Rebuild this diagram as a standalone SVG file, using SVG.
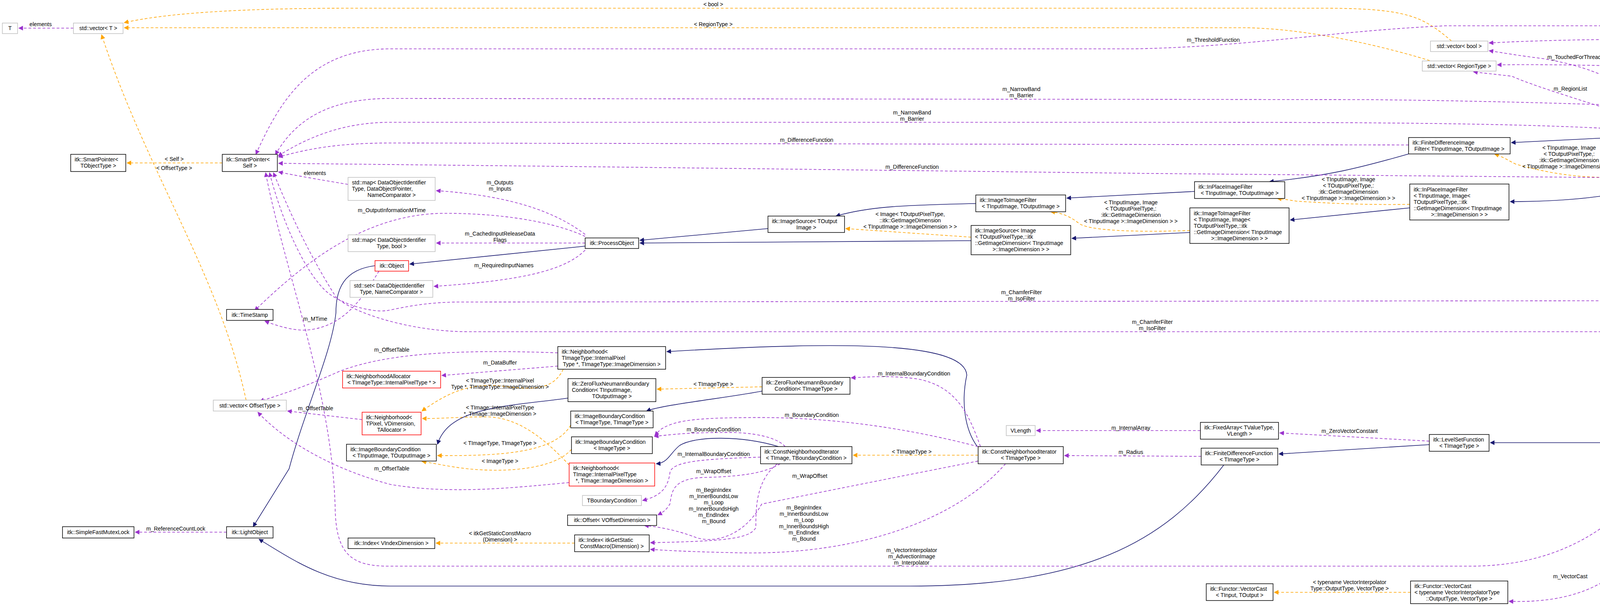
<svg xmlns="http://www.w3.org/2000/svg" width="5877" height="1551" viewBox="0 0 5877 1551">
<style>
text{font-family:"Liberation Sans",Arial,sans-serif;font-size:14px;fill:#000}
.l{text-anchor:start}.c{text-anchor:middle}
rect{stroke-width:1.5}
.n rect{fill:#fff;stroke:#000}
.x rect{fill:#fff;stroke:#bfbfbf}
.r rect{fill:#fff;stroke:#ff0000}
.m rect{fill:#bfbfbf;stroke:#000}
path{fill:none;stroke-width:1.6}
.u{stroke:#9a32cd;stroke-dasharray:7,5;marker-end:url(#mu)}
.t{stroke:#ffa500;stroke-dasharray:7,5;marker-end:url(#mt)}
.i{stroke:#191970;marker-end:url(#mi)}
</style>
<defs>
<marker id="mu" viewBox="0 0 10 10" refX="9" refY="5" markerWidth="12" markerHeight="12" markerUnits="userSpaceOnUse" orient="auto"><path d="M0,0L10,5L0,10z" style="fill:#9a32cd;stroke:none"/></marker>
<marker id="mt" viewBox="0 0 10 10" refX="9" refY="5" markerWidth="12" markerHeight="12" markerUnits="userSpaceOnUse" orient="auto"><path d="M0,0L10,5L0,10z" style="fill:#ffa500;stroke:none"/></marker>
<marker id="mi" viewBox="0 0 10 10" refX="9" refY="5" markerWidth="12" markerHeight="12" markerUnits="userSpaceOnUse" orient="auto"><path d="M0,0L10,5L0,10z" style="fill:#191970;stroke:none"/></marker>
</defs>
<rect width="5877" height="1551" fill="#fff"/>
<g id="edges">
<path class="t" d="M3716,105 C3640,40 3600,21 3380,21 L900,21 C600,21 420,35 318,58"/>
<path class="t" d="M3660,155 C3480,100 3300,71 3180,71 L318,71"/>
<path class="t" d="M630,1024 C560,700 380,450 260,89"/>
<path class="t" d="M569,417 L325,417"/>
<path class="t" d="M1442,945 C1420,990 1380,1000 1300,990 C1200,975 1140,1010 1080,1052"/>
<path class="t" d="M1457,1190 C1400,1130 1330,1065 1240,1067 C1180,1067 1120,1072 1081,1071"/>
<path class="t" d="M1461,1088 C1420,1160 1280,1167 1120,1166"/>
<path class="t" d="M1463,1150 C1420,1200 1300,1210 1200,1200 C1150,1195 1110,1185 1080,1181"/>
<path class="t" d="M1471,1390 L1116,1390"/>
<path class="t" d="M1951,990 L1682,996"/>
<path class="t" d="M2504,1165 L2184,1165"/>
<path class="t" d="M3611,1516 L3262,1516"/>
<path class="t" d="M2486,607 L2165,585"/>
<path class="t" d="M3046,590 C2900,595 2780,590 2760,570 C2740,555 2720,545 2690,542"/>
<path class="t" d="M3609,523 C3500,525 3400,520 3320,515 C3300,512 3290,510 3270,508"/>
<path class="t" d="M4178,455 C4050,455 3990,450 3880,420 C3860,410 3845,400 3826,394"/>
<path class="t" d="M4740,358 C4650,375 4550,370 4437,362"/>
<path class="t" d="M5272,769 L4996,769"/>
<path class="i" d="M1498,630 L1049,676"/>
<path class="i" d="M960,680 C880,690 860,740 860,800 C850,900 780,1050 740,1200 L648,1348"/>
<path class="i" d="M3133,1190 C2980,1390 2770,1500 2330,1500 L1000,1500 C850,1500 760,1440 663,1380"/>
<path class="i" d="M1454,1019 C1300,1040 1150,1040 1120,1137"/>
<path class="i" d="M1951,1001 C1850,1020 1700,1035 1655,1052"/>
<path class="i" d="M1993,1143 C1900,1115 1780,1115 1740,1140 C1715,1160 1710,1185 1680,1187"/>
<path class="i" d="M2502,1143 C2470,1100 2460,1030 2475,960 C2470,880 2200,870 1707,900"/>
<path class="i" d="M3659,1138 L3274,1162"/>
<path class="i" d="M4189,1133 L3815,1133"/>
<path class="i" d="M5728,288 L5460,723"/>
<path class="i" d="M5367,723 L4930,369"/>
<path class="i" d="M4840,739 C4700,520 4550,420 4380,367"/>
<path class="i" d="M4745,366 C4620,410 4530,420 4431,433"/>
<path class="i" d="M4171,350 L3869,365"/>
<path class="i" d="M4178,488 C4100,505 4000,516 3866,516"/>
<path class="i" d="M3606,394 C3480,430 3400,450 3250,465"/>
<path class="i" d="M3609,532 L3303,563"/>
<path class="i" d="M3058,490 L2731,507"/>
<path class="i" d="M3046,595 L2744,610"/>
<path class="i" d="M2498,521 C2300,525 2220,530 2140,553"/>
<path class="i" d="M1966,585 L1638,615"/>
<path class="i" d="M2486,616 L1638,622"/>
<path class="u" d="M188,72 L48,72"/>
<path class="u" d="M891,472 C820,460 760,450 713,440"/>
<path class="u" d="M1498,600 C1420,540 1300,500 1117,488"/>
<path class="u" d="M1498,605 C1400,560 1250,545 1130,546 C950,550 800,650 652,795"/>
<path class="u" d="M1498,622 L1117,622"/>
<path class="u" d="M1498,640 C1440,700 1300,720 1111,733"/>
<path class="u" d="M970,694 C930,760 880,840 780,845 C740,845 700,830 678,822"/>
<path class="u" d="M580,1362 L346,1362"/>
<path class="u" d="M1428,903 C1200,895 1000,900 870,950 C780,990 720,1010 665,1027"/>
<path class="u" d="M1428,937 L1131,961"/>
<path class="u" d="M927,1074 L736,1052"/>
<path class="u" d="M1457,1235 C1300,1250 1150,1265 1000,1240 C850,1200 730,1130 660,1055"/>
<path class="u" d="M2010,1143 C1990,1120 1930,1105 1850,1107 C1760,1107 1720,1112 1675,1117"/>
<path class="u" d="M1947,1170 C1800,1175 1720,1180 1715,1210 C1710,1250 1690,1270 1645,1281"/>
<path class="u" d="M1997,1187 C1960,1210 1900,1220 1800,1222 C1720,1225 1720,1260 1715,1290 C1705,1305 1700,1310 1684,1318"/>
<path class="u" d="M1990,1187 C1935,1230 1935,1300 1935,1350 C1920,1380 1850,1385 1665,1389"/>
<path class="u" d="M2504,1143 C2300,1090 2100,1065 1900,1069 C1760,1070 1720,1080 1690,1100 L1676,1115"/>
<path class="u" d="M2510,1143 C2480,1060 2450,990 2350,970 C2280,960 2220,965 2179,967"/>
<path class="u" d="M2504,1180 C2300,1220 2150,1250 1950,1290 C1900,1380 1820,1390 1780,1375 C1740,1360 1700,1350 1650,1345"/>
<path class="u" d="M2574,1187 C2450,1330 2200,1420 1900,1415 C1800,1413 1720,1410 1665,1406"/>
<path class="u" d="M3073,1102 L2653,1102"/>
<path class="u" d="M3075,1168 L2725,1166"/>
<path class="u" d="M3659,1129 L3276,1108"/>
<path class="u" d="M4298,1162 C4250,1350 4180,1550 3863,1539"/>
<path class="u" d="M4275,1162 C4150,1360 3980,1450 3760,1449 L1000,1449 C900,1450 860,1420 858,1300 C850,1000 730,700 680,442"/>
<path class="u" d="M4740,769 L1180,773 C1080,773 1020,790 990,795 C950,800 880,780 840,750 C780,700 720,560 690,442"/>
<path class="u" d="M5272,803 C5150,835 5000,849 4900,849 L1200,849 C1050,849 900,800 860,760 C790,650 740,540 700,442"/>
<path class="u" d="M4803,798 C4640,900 4440,1000 4342,1104"/>
<path class="u" d="M5355,814 C5250,950 4800,1080 4420,1108"/>
<path class="u" d="M5716,213 C5650,120 5580,66 5440,66 L3700,66 C3400,80 3200,120 2900,125 L1000,125 C800,125 720,250 655,395"/>
<path class="u" d="M4810,276 C4750,180 4600,100 4300,100 C4050,100 3900,105 3812,110"/>
<path class="u" d="M4765,276 C4650,220 4500,190 4200,170 C4000,165 3900,165 3833,166"/>
<path class="u" d="M4275,320 C4200,230 4100,175 3950,150 C3870,140 3830,132 3812,130"/>
<path class="u" d="M4230,318 C4100,270 3950,230 3870,195 L3772,184"/>
<path class="u" d="M4740,300 C4500,280 4000,260 3500,255 L1000,252 C850,252 760,300 705,396"/>
<path class="u" d="M4171,332 C3900,315 3500,313 3000,313 L1000,313 C880,313 790,350 712,399"/>
<path class="u" d="M3606,371 L1000,366 C870,366 790,380 713,402"/>
<path class="u" d="M4178,455 L2950,444 L1450,426 L713,418"/>
<g class="c">
<text x="1826" y="16">&lt; bool &gt;</text>
<text x="1826" y="67">&lt; RegionType &gt;</text>
<text x="104" y="67">elements</text>
<text x="446" y="412">&lt; Self &gt;</text>
<text x="446" y="435">&lt; OffsetType &gt;</text>
<text x="806" y="448">elements</text>
<text x="1280" y="472">m_Outputs</text>
<text x="1280" y="488">m_Inputs</text>
<text x="1003" y="543">m_OutputInformationMTime</text>
<text x="1280" y="603">m_CachedInputReleaseData</text>
<text x="1280" y="619">Flags</text>
<text x="1290" y="684">m_RequiredInputNames</text>
<text x="807" y="821">m_MTime</text>
<text x="450" y="1358">m_ReferenceCountLock</text>
<text x="1003" y="900">m_OffsetTable</text>
<text x="1280" y="933">m_DataBuffer</text>
<text x="1280" y="979">&lt; TImageType::InternalPixel</text>
<text x="1280" y="995">Type *, TImageType::ImageDimension &gt;</text>
<text x="808" y="1050">m_OffsetTable</text>
<text x="1280" y="1048">&lt; TImage::InternalPixelType</text>
<text x="1280" y="1064">*, TImage::ImageDimension &gt;</text>
<text x="1280" y="1139">&lt; TImageType, TImageType &gt;</text>
<text x="1280" y="1185">&lt; ImageType &gt;</text>
<text x="1003" y="1204">m_OffsetTable</text>
<text x="1280" y="1370">&lt; itkGetStaticConstMacro</text>
<text x="1280" y="1386">(Dimension) &gt;</text>
<text x="1826" y="988">&lt; TImageType &gt;</text>
<text x="2340" y="961">m_InternalBoundaryCondition</text>
<text x="2078" y="1067">m_BoundaryCondition</text>
<text x="1827" y="1104">m_BoundaryCondition</text>
<text x="1827" y="1167">m_InternalBoundaryCondition</text>
<text x="1827" y="1211">m_WrapOffset</text>
<text x="1827" y="1259">m_BeginIndex</text>
<text x="1827" y="1275">m_InnerBoundsLow</text>
<text x="1827" y="1291">m_Loop</text>
<text x="1827" y="1307">m_InnerBoundsHigh</text>
<text x="1827" y="1323">m_EndIndex</text>
<text x="1827" y="1339">m_Bound</text>
<text x="2334" y="1161">&lt; TImageType &gt;</text>
<text x="2073" y="1223">m_WrapOffset</text>
<text x="2058" y="1304">m_BeginIndex</text>
<text x="2058" y="1320">m_InnerBoundsLow</text>
<text x="2058" y="1336">m_Loop</text>
<text x="2058" y="1352">m_InnerBoundsHigh</text>
<text x="2058" y="1368">m_EndIndex</text>
<text x="2058" y="1384">m_Bound</text>
<text x="2334" y="1413">m_VectorInterpolator</text>
<text x="2334" y="1429">m_AdvectionImage</text>
<text x="2334" y="1445">m_Interpolator</text>
<text x="2895" y="1100">m_InternalArray</text>
<text x="2895" y="1162">m_Radius</text>
<text x="3455" y="1108">m_ZeroVectorConstant</text>
<text x="3455" y="1495">&lt; typename VectorInterpolator</text>
<text x="3455" y="1511">Type::OutputType, VectorType &gt;</text>
<text x="4020" y="1480">m_VectorCast</text>
<text x="2615" y="753">m_ChamferFilter</text>
<text x="2615" y="769">m_IsoFilter</text>
<text x="2950" y="829">m_ChamferFilter</text>
<text x="2950" y="845">m_IsoFilter</text>
<text x="4590" y="846">m_SegmentationFunction</text>
<text x="4868" y="956">m_SegmentationFunction</text>
<text x="3106" y="107">m_ThresholdFunction</text>
<text x="4300" y="100">m_TouchedForThread</text>
<text x="4310" y="171">m_RegionList</text>
<text x="4030" y="151">m_TouchedForThread</text>
<text x="4020" y="232">m_RegionList</text>
<text x="2615" y="233">m_NarrowBand</text>
<text x="2615" y="249">m_Barrier</text>
<text x="2335" y="293">m_NarrowBand</text>
<text x="2335" y="309">m_Barrier</text>
<text x="2065" y="363">m_DifferenceFunction</text>
<text x="2335" y="432">m_DifferenceFunction</text>
<text x="2330" y="553">&lt; Image&lt; TOutputPixelType,</text>
<text x="2330" y="569">::itk::GetImageDimension</text>
<text x="2330" y="585">&lt; TInputImage &gt;::ImageDimension &gt; &gt;</text>
<text x="2895" y="523">&lt; TInputImage, Image</text>
<text x="2895" y="539">&lt; TOutputPixelType,:</text>
<text x="2895" y="555">:itk::GetImageDimension</text>
<text x="2895" y="571">&lt; TInputImage &gt;::ImageDimension &gt; &gt;</text>
<text x="3452" y="464">&lt; TInputImage, Image</text>
<text x="3452" y="480">&lt; TOutputPixelType,:</text>
<text x="3452" y="496">:itk::GetImageDimension</text>
<text x="3452" y="512">&lt; TInputImage &gt;::ImageDimension &gt; &gt;</text>
<text x="4017" y="383">&lt; TInputImage, Image</text>
<text x="4017" y="399">&lt; TOutputPixelType,:</text>
<text x="4017" y="415">:itk::GetImageDimension</text>
<text x="4017" y="431">&lt; TInputImage &gt;::ImageDimension &gt; &gt;</text>
<text x="4540" y="311">&lt; TInputImage, Image</text>
<text x="4540" y="327">&lt; TOutputPixelType,:</text>
<text x="4540" y="343">:itk::GetImageDimension</text>
<text x="4540" y="359">&lt; TInputImage &gt;::ImageDimension &gt; &gt;</text>
<text x="5135" y="701">&lt; TInputImage, TFeatureImage,</text>
<text x="5135" y="717">TOutputPixelType, Image</text>
<text x="5135" y="733">&lt; TOutputPixelType,::itk:</text>
<text x="5135" y="749">:GetImageDimension&lt; TInputImage</text>
<text x="5135" y="765">&gt;::ImageDimension &gt; &gt;</text>
</g>
</g>
<g id="n_T" class="x"><rect x="6" y="59" width="39" height="27"/><text class="c" x="25.5" y="77">T</text></g>
<g id="n_vecT" class="x"><rect x="188" y="59" width="127" height="27"/><text class="c" x="251.5" y="77">std::vector&lt; T &gt;</text></g>
<g id="n_spT" class="n"><rect x="181" y="395" width="141" height="44"/><text class="l" x="191" y="413">itk::SmartPointer&lt;</text><text class="c" x="251.5" y="429">TObjectType &gt;</text></g>
<g id="n_spS" class="n"><rect x="569" y="395" width="141" height="44"/><text class="l" x="579" y="413">itk::SmartPointer&lt;</text><text class="c" x="639.5" y="429">Self &gt;</text></g>
<g id="n_map1" class="x"><rect x="891" y="454" width="223" height="59"/><text class="l" x="901" y="472">std::map&lt; DataObjectIdentifier</text><text class="l" x="901" y="488">Type, DataObjectPointer,</text><text class="c" x="1002.5" y="504">NameComparator &gt;</text></g>
<g id="n_map2" class="x"><rect x="891" y="601" width="223" height="43"/><text class="l" x="901" y="619">std::map&lt; DataObjectIdentifier</text><text class="c" x="1002.5" y="635">Type, bool &gt;</text></g>
<g id="n_obj" class="r"><rect x="960" y="667" width="86" height="27"/><text class="c" x="1003" y="685">itk::Object</text></g>
<g id="n_set" class="x"><rect x="896" y="718" width="212" height="43"/><text class="l" x="906" y="736">std::set&lt; DataObjectIdentifier</text><text class="c" x="1002" y="752">Type, NameComparator &gt;</text></g>
<g id="n_po" class="n"><rect x="1498" y="609" width="137" height="27"/><text class="c" x="1566.5" y="627">itk::ProcessObject</text></g>
<g id="n_ts" class="n"><rect x="580" y="792" width="119" height="28"/><text class="c" x="639.5" y="811">itk::TimeStamp</text></g>
<g id="n_vecO" class="x"><rect x="546" y="1024" width="187" height="28"/><text class="c" x="639.5" y="1043">std::vector&lt; OffsetType &gt;</text></g>
<g id="n_alloc" class="r"><rect x="877" y="950" width="251" height="43"/><text class="l" x="887" y="968">itk::NeighborhoodAllocator</text><text class="c" x="1002.5" y="984">&lt; TImageType::InternalPixelType * &gt;</text></g>
<g id="n_nbP" class="r"><rect x="927" y="1055" width="151" height="58"/><text class="l" x="937" y="1073">itk::Neighborhood&lt;</text><text class="l" x="937" y="1089">TPixel, VDimension,</text><text class="c" x="1002.5" y="1105">TAllocator &gt;</text></g>
<g id="n_ibcIO" class="n"><rect x="887" y="1137" width="230" height="43"/><text class="l" x="897" y="1155">itk::ImageBoundaryCondition</text><text class="c" x="1002" y="1171">&lt; TInputImage, TOutputImage &gt;</text></g>
<g id="n_mutex" class="n"><rect x="160" y="1348" width="183" height="29"/><text class="c" x="251.5" y="1367">itk::SimpleFastMutexLock</text></g>
<g id="n_lo" class="n"><rect x="580" y="1348" width="119" height="29"/><text class="c" x="639.5" y="1367">itk::LightObject</text></g>
<g id="n_idxV" class="n"><rect x="891" y="1377" width="222" height="27"/><text class="c" x="1002" y="1395">itk::Index&lt; VIndexDimension &gt;</text></g>
<g id="n_nbTT" class="n"><rect x="1428" y="887" width="276" height="58"/><text class="l" x="1438" y="905">itk::Neighborhood&lt;</text><text class="l" x="1438" y="921">TImageType::InternalPixel</text><text class="c" x="1566" y="937">Type *, TImageType::ImageDimension &gt;</text></g>
<g id="n_zfIO" class="n"><rect x="1454" y="969" width="225" height="59"/><text class="l" x="1464" y="987">itk::ZeroFluxNeumannBoundary</text><text class="l" x="1464" y="1003">Condition&lt; TInputImage,</text><text class="c" x="1566.5" y="1019">TOutputImage &gt;</text></g>
<g id="n_zfT" class="n"><rect x="1951" y="966" width="225" height="43"/><text class="l" x="1961" y="984">itk::ZeroFluxNeumannBoundary</text><text class="c" x="2063.5" y="1000">Condition&lt; TImageType &gt;</text></g>
<g id="n_ibcTT" class="n"><rect x="1461" y="1052" width="211" height="43"/><text class="l" x="1471" y="1070">itk::ImageBoundaryCondition</text><text class="c" x="1566.5" y="1086">&lt; TImageType, TImageType &gt;</text></g>
<g id="n_ibcI" class="n"><rect x="1463" y="1118" width="207" height="43"/><text class="l" x="1473" y="1136">itk::ImageBoundaryCondition</text><text class="c" x="1566.5" y="1152">&lt; ImageType &gt;</text></g>
<g id="n_nbTI" class="r"><rect x="1457" y="1185" width="219" height="59"/><text class="l" x="1467" y="1203">itk::Neighborhood&lt;</text><text class="l" x="1467" y="1219">TImage::InternalPixelType</text><text class="c" x="1566.5" y="1235">*, TImage::ImageDimension &gt;</text></g>
<g id="n_tbc" class="x"><rect x="1491" y="1268" width="151" height="26"/><text class="c" x="1566.5" y="1286">TBoundaryCondition</text></g>
<g id="n_off" class="n"><rect x="1453" y="1318" width="228" height="27"/><text class="c" x="1567" y="1336">itk::Offset&lt; VOffsetDimension &gt;</text></g>
<g id="n_idxM" class="n"><rect x="1471" y="1369" width="191" height="43"/><text class="l" x="1481" y="1387">itk::Index&lt; itkGetStatic</text><text class="c" x="1566.5" y="1403">ConstMacro(Dimension) &gt;</text></g>
<g id="n_cni2" class="n"><rect x="1947" y="1143" width="234" height="44"/><text class="l" x="1957" y="1161">itk::ConstNeighborhoodIterator</text><text class="c" x="2064" y="1177">&lt; TImage, TBoundaryCondition &gt;</text></g>
<g id="n_vlen" class="x"><rect x="2576" y="1089" width="74" height="26"/><text class="c" x="2613" y="1107">VLength</text></g>
<g id="n_cni1" class="n"><rect x="2504" y="1143" width="218" height="44"/><text class="l" x="2514" y="1161">itk::ConstNeighborhoodIterator</text><text class="c" x="2613" y="1177">&lt; TImageType &gt;</text></g>
<g id="n_isO" class="n"><rect x="1966" y="553" width="196" height="42"/><text class="l" x="1976" y="571">itk::ImageSource&lt; TOutput</text><text class="c" x="2064" y="587">Image &gt;</text></g>
<g id="n_i2iIO" class="n"><rect x="2498" y="499" width="230" height="43"/><text class="l" x="2508" y="517">itk::ImageToImageFilter</text><text class="c" x="2613" y="533">&lt; TInputImage, TOutputImage &gt;</text></g>
<g id="n_isI" class="n"><rect x="2486" y="577" width="255" height="75"/><text class="l" x="2496" y="595">itk::ImageSource&lt; Image</text><text class="l" x="2496" y="611">&lt; TOutputPixelType,::itk</text><text class="l" x="2496" y="627">::GetImageDimension&lt; TInputImage</text><text class="c" x="2613.5" y="643">&gt;::ImageDimension &gt; &gt;</text></g>
<g id="n_vecB" class="x"><rect x="3662" y="105" width="147" height="27"/><text class="c" x="3735.5" y="123">std::vector&lt; bool &gt;</text></g>
<g id="n_vecR" class="x"><rect x="3641" y="156" width="189" height="26"/><text class="c" x="3735.5" y="174">std::vector&lt; RegionType &gt;</text></g>
<g id="n_nbfIO" class="n"><rect x="4171" y="320" width="263" height="44"/><text class="l" x="4181" y="338">itk::NarrowBandImageFilter</text><text class="c" x="4302.5" y="354">Base&lt; TInputImage, TOutputImage &gt;</text></g>
<g id="n_fdIO" class="n"><rect x="3606" y="352" width="260" height="42"/><text class="l" x="3616" y="370">itk::FiniteDifferenceImage</text><text class="c" x="3736" y="386">Filter&lt; TInputImage, TOutputImage &gt;</text></g>
<g id="n_fdI" class="n"><rect x="4178" y="407" width="250" height="89"/><text class="l" x="4188" y="425">itk::FiniteDifferenceImage</text><text class="l" x="4188" y="441">Filter&lt; TInputImage, Image</text><text class="l" x="4188" y="457">&lt; TOutputPixelType,::itk:</text><text class="l" x="4188" y="473">:GetImageDimension&lt; TInputImage</text><text class="c" x="4303" y="489">&gt;::ImageDimension &gt; &gt;</text></g>
<g id="n_ipIO" class="n"><rect x="3058" y="465" width="231" height="43"/><text class="l" x="3068" y="483">itk::InPlaceImageFilter</text><text class="c" x="3173.5" y="499">&lt; TInputImage, TOutputImage &gt;</text></g>
<g id="n_ipI" class="n"><rect x="3609" y="471" width="254" height="92"/><text class="l" x="3619" y="490">itk::InPlaceImageFilter</text><text class="l" x="3619" y="506">&lt; TInputImage, Image&lt;</text><text class="l" x="3619" y="522">TOutputPixelType,::itk</text><text class="l" x="3619" y="538">::GetImageDimension&lt; TInputImage</text><text class="c" x="3736" y="554">&gt;::ImageDimension &gt; &gt;</text></g>
<g id="n_i2iI" class="n"><rect x="3046" y="532" width="254" height="91"/><text class="l" x="3056" y="551">itk::ImageToImageFilter</text><text class="l" x="3056" y="567">&lt; TInputImage, Image&lt;</text><text class="l" x="3056" y="583">TOutputPixelType,::itk</text><text class="l" x="3056" y="599">::GetImageDimension&lt; TInputImage</text><text class="c" x="3173" y="615">&gt;::ImageDimension &gt; &gt;</text></g>
<g id="n_fa" class="n"><rect x="3073" y="1081" width="200" height="43"/><text class="l" x="3083" y="1099">itk::FixedArray&lt; TValueType,</text><text class="c" x="3173" y="1115">VLength &gt;</text></g>
<g id="n_fdf" class="n"><rect x="3075" y="1147" width="196" height="43"/><text class="l" x="3085" y="1165">itk::FiniteDifferenceFunction</text><text class="c" x="3173" y="1181">&lt; TImageType &gt;</text></g>
<g id="n_lsf" class="n"><rect x="3659" y="1112" width="153" height="43"/><text class="l" x="3669" y="1130">itk::LevelSetFunction</text><text class="c" x="3735.5" y="1146">&lt; TImageType &gt;</text></g>
<g id="n_slsf" class="n"><rect x="4189" y="1104" width="228" height="58"/><text class="l" x="4199" y="1122">itk::SegmentationLevelSet</text><text class="l" x="4199" y="1138">Function&lt; TImageType, TFeature</text><text class="c" x="4303" y="1154">ImageType &gt;</text></g>
<g id="n_vc1" class="n"><rect x="3088" y="1494" width="171" height="43"/><text class="l" x="3098" y="1512">itk::Functor::VectorCast</text><text class="c" x="3173.5" y="1528">&lt; TInput, TOutput &gt;</text></g>
<g id="n_vc2" class="n"><rect x="3611" y="1487" width="249" height="58"/><text class="l" x="3621" y="1505">itk::Functor::VectorCast</text><text class="l" x="3621" y="1521">&lt; typename VectorInterpolatorType</text><text class="c" x="3735.5" y="1537">::OutputType, VectorType &gt;</text></g>
<g id="n_main" class="m"><rect x="5633" y="213" width="238" height="75"/><text class="l" x="5643" y="231">itk::NarrowBandThreshold</text><text class="l" x="5643" y="247">SegmentationLevelSetImageFilter</text><text class="l" x="5643" y="263">&lt; TInputImage, TFeatureImage,</text><text class="c" x="5752" y="279">TOutputPixelType &gt;</text></g>
<g id="n_nbfI" class="n"><rect x="4740" y="276" width="254" height="90"/><text class="l" x="4750" y="294">itk::NarrowBandImageFilter</text><text class="l" x="4750" y="310">Base&lt; TInputImage, Image</text><text class="l" x="4750" y="326">&lt; TOutputPixelType,::itk</text><text class="l" x="4750" y="342">::GetImageDimension&lt; TInputImage</text><text class="c" x="4867" y="358">&gt;::ImageDimension &gt; &gt;</text></g>
<g id="n_nblsO" class="n"><rect x="4740" y="739" width="253" height="59"/><text class="l" x="4750" y="757">itk::NarrowBandLevelSetImage</text><text class="l" x="4750" y="773">Filter&lt; TInputImage, TFeatureImage,</text><text class="c" x="4866.5" y="789">TOutputPixelType, TOutputImage &gt;</text></g>
<g id="n_nblsI" class="n"><rect x="5272" y="723" width="309" height="91"/><text class="l" x="5282" y="741">itk::NarrowBandLevelSetImage</text><text class="l" x="5282" y="757">Filter&lt; TInputImage, TFeatureImage,</text><text class="l" x="5282" y="773">TOutputPixelType, Image&lt; TOutputPixelType,</text><text class="l" x="5282" y="789">::itk::GetImageDimension&lt; TInputImage</text><text class="c" x="5426.5" y="805">&gt;::ImageDimension &gt; &gt;</text></g>
</svg>
